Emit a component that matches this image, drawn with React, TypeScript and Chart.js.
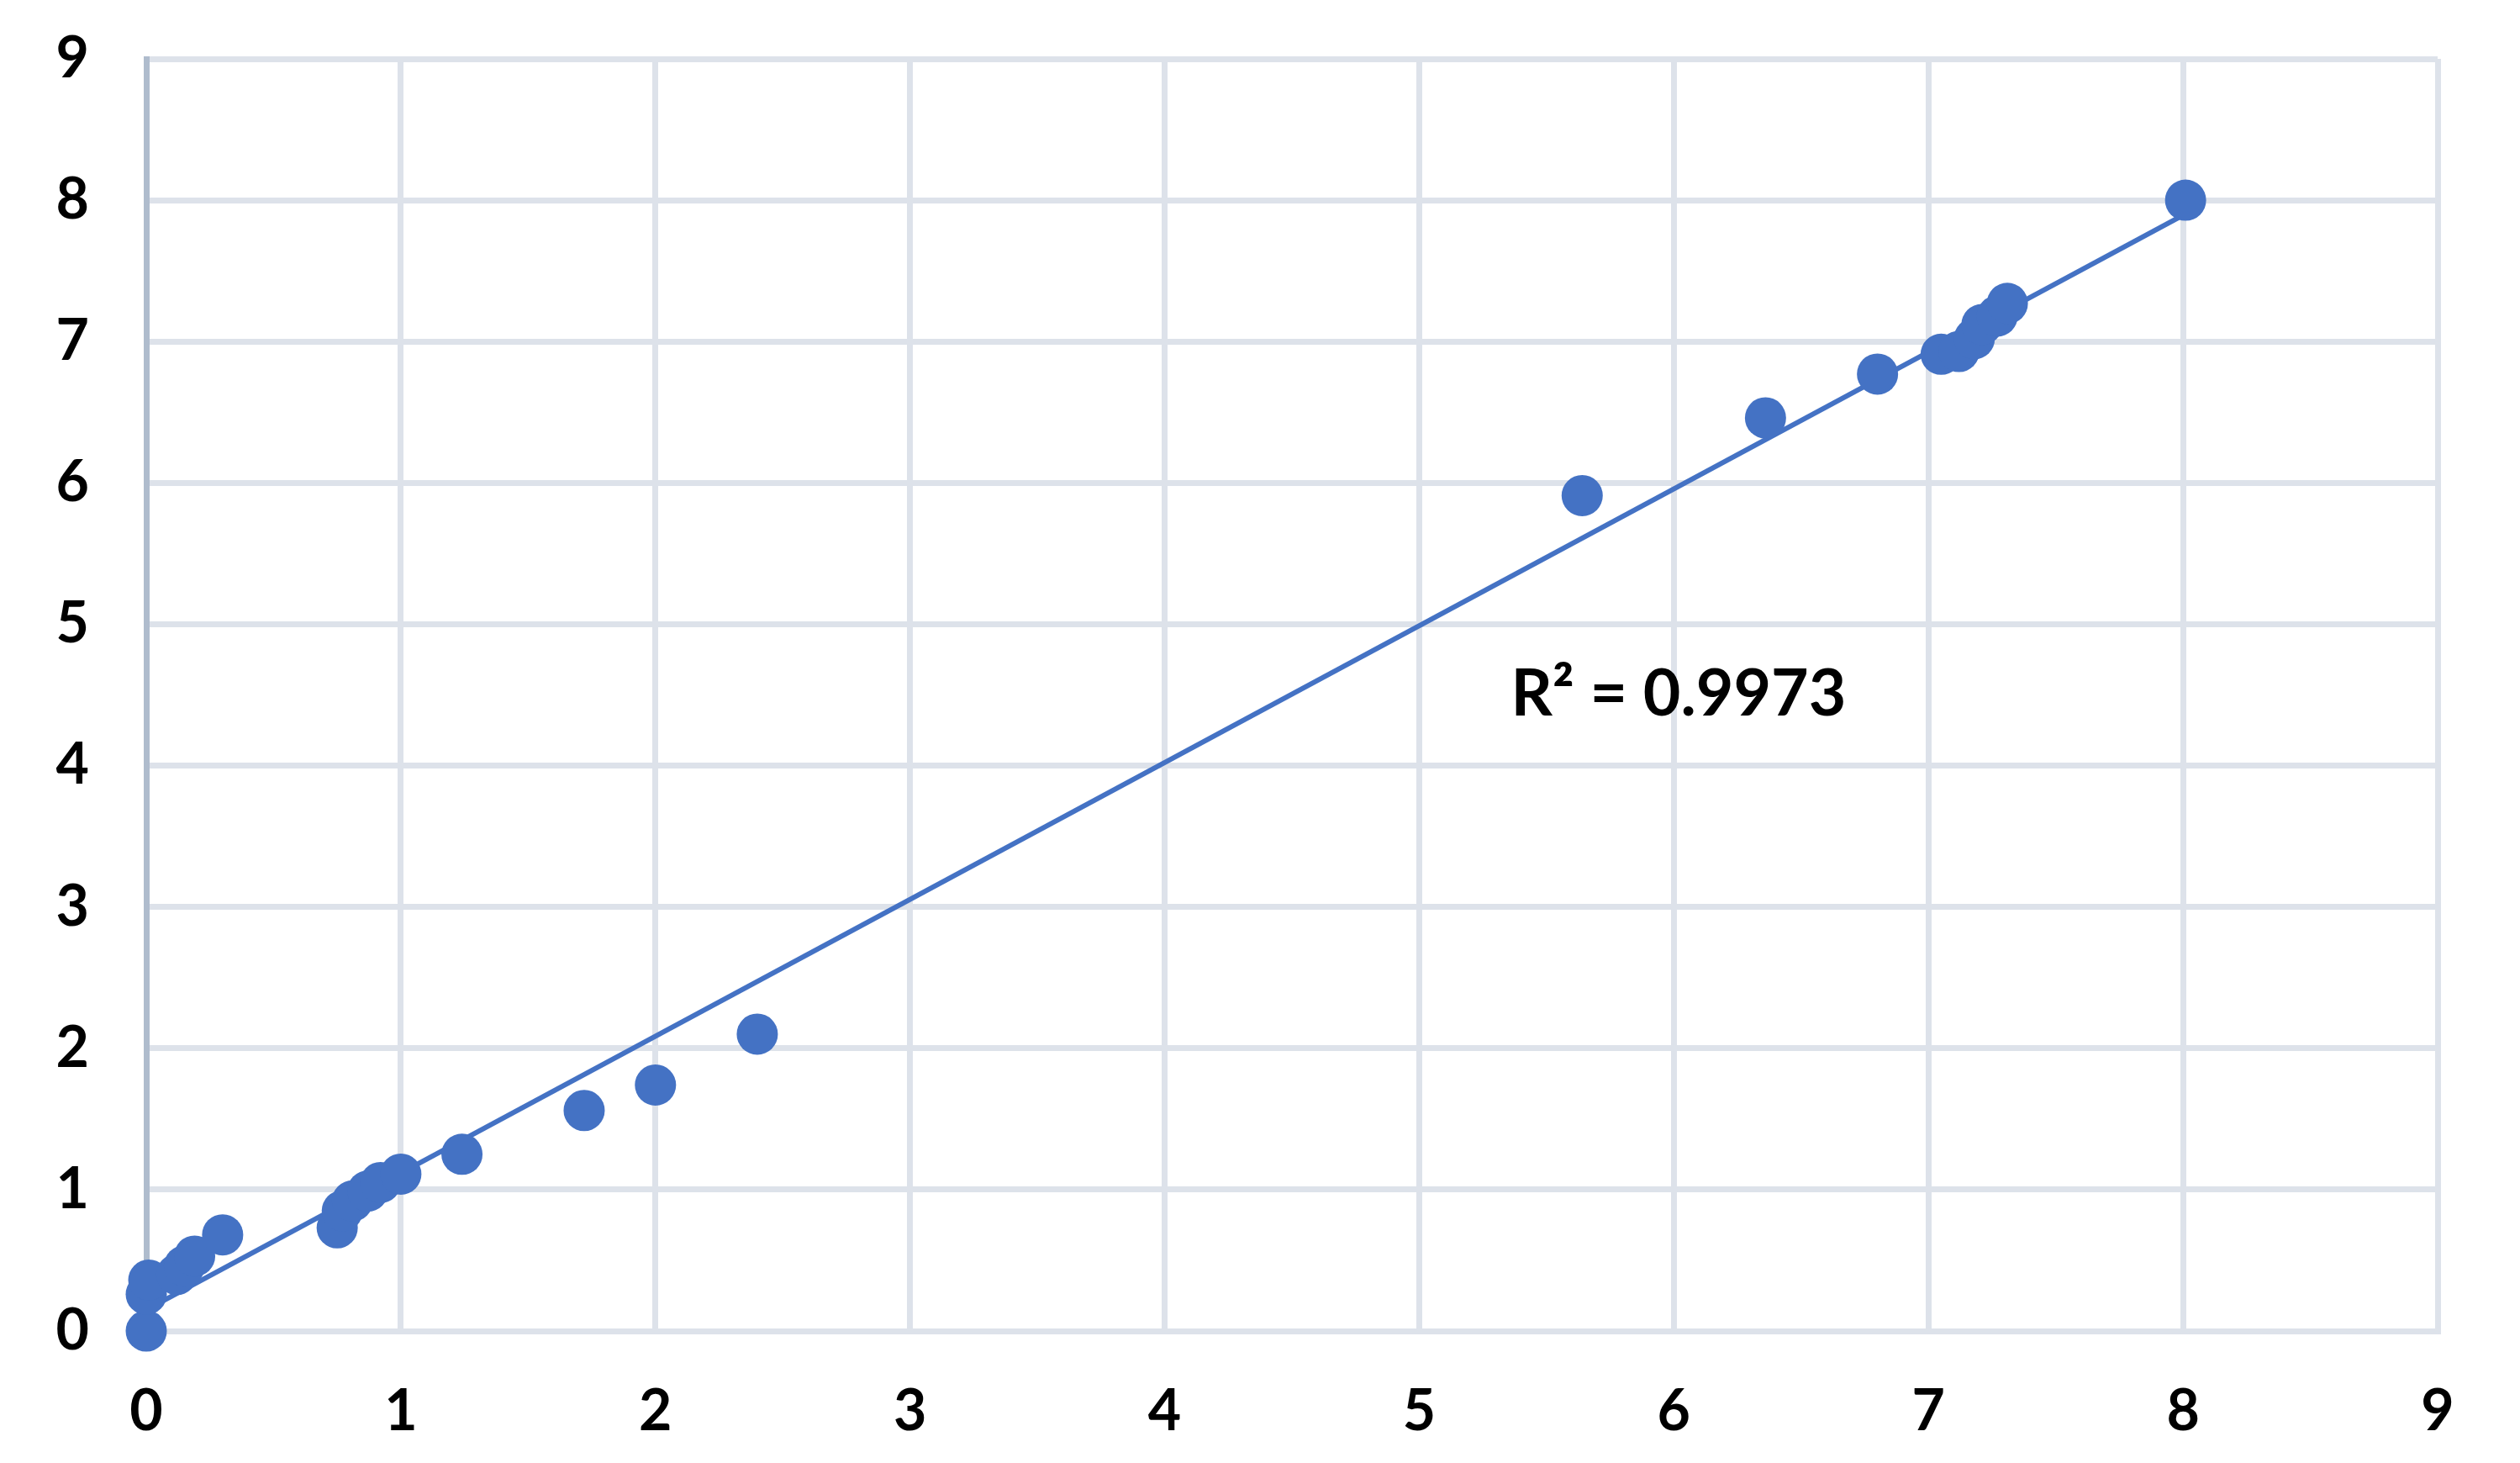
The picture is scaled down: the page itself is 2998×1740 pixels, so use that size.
import React, { useEffect, useRef } from "react";
import { Chart, registerables } from "chart.js";

Chart.register(...registerables);

const xValues = [0, 0, 0.01, 0.12, 0.15, 0.19, 0.3, 0.75, 0.77, 0.81, 0.87, 0.92, 1.0, 1.24, 1.72, 2.0, 2.4, 5.64, 6.36, 6.8, 7.05, 7.12, 7.18, 7.21, 7.27, 7.31, 8.01];
const yValues = [0, 0.26, 0.36, 0.4, 0.46, 0.53, 0.68, 0.73, 0.85, 0.92, 0.99, 1.05, 1.11, 1.25, 1.56, 1.74, 2.1, 5.91, 6.46, 6.77, 6.91, 6.93, 7.02, 7.12, 7.18, 7.27, 8.0];
const axisMin = 0;
const axisMax = 9;
const r2Label = "R\u00B2 = 0.9973";
const r2Position = [5.36, 4.5];

const BLUE = "#4472C4";
const GRID = "#dde2ea";
const AXIS = "#afbccd";
const FONT = "Lato";

function linearFit(xs: number[], ys: number[]) {
  const n = xs.length;
  const mx = xs.reduce((a, b) => a + b, 0) / n;
  const my = ys.reduce((a, b) => a + b, 0) / n;
  let sxy = 0, sxx = 0;
  for (let i = 0; i < n; i++) {
    sxy += (xs[i] - mx) * (ys[i] - my);
    sxx += (xs[i] - mx) * (xs[i] - mx);
  }
  const slope = sxy / sxx;
  return { slope, intercept: my - slope * mx };
}

export default function App() {
  const ref = useRef<HTMLCanvasElement | null>(null);
  useEffect(() => {
    if (!ref.current) return;
    const fit = linearFit(xValues, yValues);
    const xLo = Math.min(...xValues);
    const xHi = Math.max(...xValues);
    const points = xValues.map((x, i) => ({ x, y: yValues[i] }));
    const trend = [
      { x: xLo, y: fit.intercept + fit.slope * xLo },
      { x: xHi, y: fit.intercept + fit.slope * xHi },
    ];
    const labelPlugin = {
      id: "r2label",
      afterDatasetsDraw(chart: any) {
        const { ctx, scales } = chart;
        ctx.save();
        ctx.font = `bold 77px ${FONT}`;
        ctx.fillStyle = "#000";
        ctx.textAlign = "left";
        ctx.textBaseline = "middle";
        ctx.fillText(r2Label, scales.x.getPixelForValue(r2Position[0]), scales.y.getPixelForValue(r2Position[1]));
        ctx.restore();
      },
    };
    const chart = new Chart(ref.current, {
      type: "scatter",
      data: {
        datasets: [
          {
            type: "line",
            data: trend,
            borderColor: BLUE,
            borderWidth: 6,
            pointRadius: 0,
            fill: false,
            order: 2,
          } as any,
          {
            data: points,
            backgroundColor: BLUE,
            borderWidth: 0,
            pointRadius: 24.5,
            pointHoverRadius: 24.5,
            clip: false,
            order: 1,
          } as any,
        ],
      },
      options: {
        animation: false,
        responsive: true,
        maintainAspectRatio: false,
        layout: { padding: { left: 0, right: 98, top: 70, bottom: 0 } },
        plugins: { legend: { display: false }, tooltip: { enabled: false } },
        scales: {
          x: {
            type: "linear",
            min: axisMin,
            max: axisMax,
            ticks: { stepSize: 1, color: "#000", padding: 55, font: { family: FONT, weight: "bold", size: 68 } },
            grid: { color: GRID, lineWidth: 7, drawTicks: false },
            border: { color: GRID, width: 7 },
            afterFit: (s: any) => { s.height = 157; s.paddingLeft = 0; s.paddingRight = 0; },
          },
          y: {
            type: "linear",
            min: axisMin,
            max: axisMax,
            ticks: { stepSize: 1, color: "#000", padding: 68, font: { family: FONT, weight: "bold", size: 68 } },
            grid: { color: GRID, lineWidth: 7, drawTicks: false },
            border: { color: AXIS, width: 7 },
            afterFit: (s: any) => { s.width = 174; s.paddingTop = 0; s.paddingBottom = 0; },
          },
        },
      },
      plugins: [labelPlugin],
    });
    return () => chart.destroy();
  }, []);
  return (
    <div style={{ position: "absolute", left: 0, top: 0, width: 2998, height: 1740, background: "#fff" }}>
      <canvas ref={ref} />
    </div>
  );
}
